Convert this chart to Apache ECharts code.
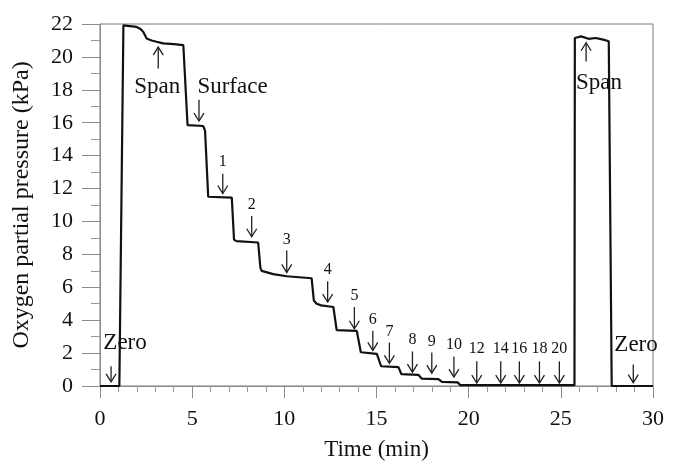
<!DOCTYPE html>
<html>
<head>
<meta charset="utf-8">
<script src="https://cdn.jsdelivr.net/npm/echarts@6/dist/echarts.min.js"></script>
<style>
  html, body { margin: 0; padding: 0; background: #fff; }
  #chart { width: 677px; height: 466px; }
</style>
</head>
<body>
<div id="chart"></div>
<script>
// trace: time (min) and O2 partial pressure (kPa)
var timeMin = [0, 1.05, 1.27, 1.99, 2.2, 2.35, 2.53, 2.8, 3.07, 3.43, 4.0, 4.52, 4.62, 4.75, 4.85, 5.6, 5.7, 5.87,
    7.15, 7.27, 7.4, 8.58, 8.7, 8.77, 9.4, 10.13, 11.48, 11.6, 11.75, 12.0, 12.66, 12.84, 13.93, 14.15, 15.02,
    15.25, 16.19, 16.35, 17.27, 17.45, 18.36, 18.55, 19.4, 19.55, 25.74, 25.76, 26.1, 26.5, 26.9, 27.3, 27.6,
    27.76, 30];
var pressureKPa = [0, 0, 21.92, 21.82, 21.7, 21.52, 21.12, 21.0, 20.92, 20.82, 20.78, 20.72, 20.6, 15.85, 15.8, 15.8, 15.5, 11.5,
    11.45, 8.9, 8.8, 8.72, 7.2, 7.0, 6.8, 6.67, 6.55, 5.2, 5.0, 4.9, 4.8, 3.4, 3.35, 2.05, 1.95,
    1.2, 1.15, 0.72, 0.68, 0.45, 0.42, 0.25, 0.22, 0.05, 0.05, 21.15, 21.25, 21.1, 21.15, 21.05, 20.95,
    0, 0];

// annotations: label, text centre, arrow x, arrow tail -> head (data units)
var annoLabels = ['Zero', 'Span', 'Surface', '1', '2', '3', '4', '5', '6', '7', '8', '9', '10',
    '12', '14', '16', '18', '20', 'Span', 'Zero'];
var annoTextX = [1.36, 3.1, 7.19, 6.66, 8.23, 10.13, 12.35, 13.8, 14.8, 15.7, 16.95, 18.0, 19.2,
    20.44, 21.74, 22.75, 23.84, 24.92, 27.07, 29.08];
var annoTextY = [2.6, 18.2, 18.2, 13.65, 11.0, 8.9, 7.05, 5.5, 4.04, 3.3, 2.8, 2.7, 2.5,
    2.24, 2.24, 2.24, 2.24, 2.24, 18.42, 2.5];
var arrowX = [0.6, 3.16, 5.37, 6.66, 8.23, 10.13, 12.35, 13.8, 14.8, 15.7, 16.95, 18.0, 19.2,
    20.44, 21.74, 22.75, 23.84, 24.92, 26.37, 28.93];
var arrowTail = [1.2, 19.3, 17.4, 12.9, 10.33, 8.23, 6.37, 4.8, 3.36, 2.64, 2.1, 2.04, 1.8,
    1.5, 1.5, 1.5, 1.5, 1.5, 19.72, 1.3];
var arrowHead = [0.25, 20.6, 16.1, 11.7, 9.07, 6.9, 5.1, 3.48, 2.16, 1.38, 0.84, 0.78, 0.54,
    0.18, 0.18, 0.18, 0.18, 0.18, 20.86, 0.2];

var serif = 'Liberation Serif';

var traceData = timeMin.map(function (t, i) { return [t, pressureKPa[i]]; });
var annoData = annoLabels.map(function (s, i) {
    return [annoTextX[i], annoTextY[i], arrowX[i], arrowTail[i], arrowHead[i]];
});

var chart = echarts.init(document.getElementById('chart'), null, { renderer: 'canvas' });

chart.setOption({
    animation: false,
    backgroundColor: '#fff',
    grid: {
        left: 100, right: 24, top: 24, bottom: 76,
        show: true, borderColor: '#7a7a7a', borderWidth: 1, backgroundColor: 'transparent'
    },
    xAxis: {
        type: 'value', min: 0, max: 30, interval: 5,
        name: 'Time (min)', nameLocation: 'middle', nameGap: 52,
        nameTextStyle: { fontFamily: serif, fontSize: 23, color: '#111' },
        axisLine: { show: true, lineStyle: { color: '#8a8a8a', width: 1 } },
        axisTick: { show: true, length: 12, lineStyle: { color: '#8a8a8a' } },
        minorTick: { show: true, splitNumber: 5, length: 6, lineStyle: { color: '#9a9a9a' } },
        splitLine: { show: false },
        axisLabel: { fontFamily: serif, fontSize: 22, color: '#111', margin: 22 }
    },
    yAxis: {
        type: 'value', min: 0, max: 22, interval: 2,
        name: 'Oxygen partial pressure (kPa)', nameLocation: 'middle', nameGap: 66,
        nameTextStyle: { fontFamily: serif, fontSize: 24, color: '#111' },
        axisLine: { show: true, lineStyle: { color: '#8a8a8a', width: 1 } },
        axisTick: { show: true, length: 18, lineStyle: { color: '#8a8a8a' } },
        minorTick: { show: true, splitNumber: 2, length: 9, lineStyle: { color: '#9a9a9a' } },
        splitLine: { show: false },
        axisLabel: { fontFamily: serif, fontSize: 22, color: '#111', margin: 27 }
    },
    series: [
        {
            name: 'O2',
            type: 'line',
            data: traceData,
            showSymbol: false,
            symbol: 'none',
            lineStyle: { color: '#111', width: 2.2 },
            z: 3
        },
        {
            name: 'annotations',
            type: 'custom',
            data: annoData,
            encode: { x: [0, 2], y: [1, 3, 4] },
            z: 4,
            renderItem: function (params, api) {
                var i = params.dataIndex;
                var txt = api.coord([api.value(0), api.value(1)]);
                var tail = api.coord([api.value(2), api.value(3)]);
                var head = api.coord([api.value(2), api.value(4)]);
                var dir = head[1] > tail[1] ? 1 : -1;   // 1 = pointing down
                var isWord = isNaN(Number(annoLabels[i]));
                return {
                    type: 'group',
                    children: [
                        {
                            type: 'text',
                            style: {
                                text: annoLabels[i],
                                x: txt[0], y: txt[1],
                                align: 'center', verticalAlign: 'middle',
                                fontFamily: serif,
                                fontSize: isWord ? 23 : 16,
                                fill: '#111'
                            }
                        },
                        {
                            type: 'line',
                            shape: { x1: tail[0], y1: tail[1], x2: head[0], y2: head[1] },
                            style: { stroke: '#222', lineWidth: 1.3 }
                        },
                        {
                            type: 'polyline',
                            shape: {
                                points: [
                                    [head[0] - 5, head[1] - dir * 8],
                                    [head[0], head[1]],
                                    [head[0] + 5, head[1] - dir * 8]
                                ]
                            },
                            style: { stroke: '#222', lineWidth: 1.3, fill: null }
                        }
                    ]
                };
            }
        }
    ]
});
</script>
</body>
</html>
